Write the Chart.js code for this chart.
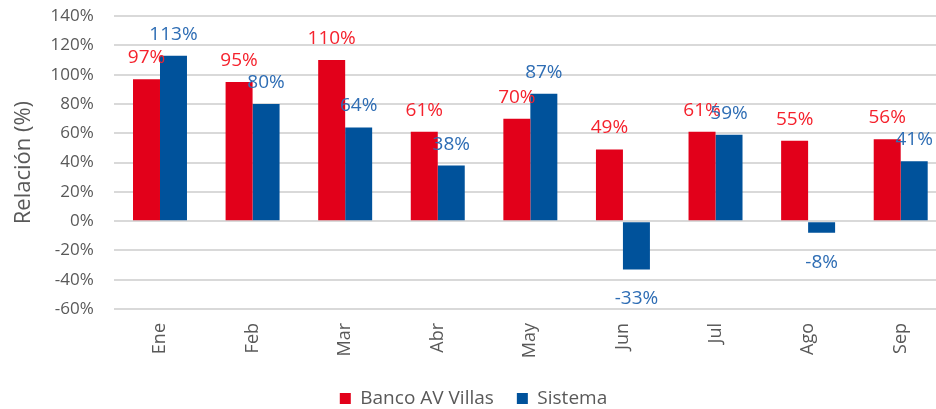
<!DOCTYPE html>
<html>
<head>
<meta charset="utf-8">
<script src="https://cdn.jsdelivr.net/npm/chart.js@4/dist/chart.umd.min.js"></script>
<style>
  html, body { margin: 0; padding: 0; background: #fff; overflow: hidden; }
  #wrap { width: 948px; height: 432px; margin-top: -14px; }
</style>
</head>
<body>
<div id="wrap"><canvas id="myChart"></canvas></div>
<script>
var meses = ['Ene', 'Feb', 'Mar', 'Abr', 'May', 'Jun', 'Jul', 'Ago', 'Sep'];
var avVillas = [97, 95, 110, 61, 70, 49, 61, 55, 56];
var sistema = [113, 80, 64, 38, 87, -33, 59, -8, 41];

var gris = '#595959';
var fuente = "'Open Sans', 'Liberation Sans', sans-serif";

// etiquetas de datos encima / debajo de cada barra
var etiquetas = {
  id: 'etiquetas',
  afterDatasetsDraw: function(chart) {
    var ctx = chart.ctx;
    ctx.save();
    ctx.font = '19px ' + fuente;
    ctx.textAlign = 'center';
    ctx.textBaseline = 'alphabetic';
    chart.data.datasets.forEach(function(ds, i) {
      var meta = chart.getDatasetMeta(i);
      ctx.fillStyle = ds.labelColor;
      meta.data.forEach(function(bar, j) {
        var v = ds.data[j];
        var y = v >= 0 ? bar.y - 16 : bar.y + 35;
        ctx.fillText(v + '%', bar.x, y);
      });
    });
    ctx.restore();
  }
};

var ctx = document.getElementById('myChart').getContext('2d');
var myChart = new Chart(ctx, {
  type: 'bar',
  data: {
    labels: meses,
    datasets: [{
      label: 'Banco AV Villas',
      data: avVillas,
      backgroundColor: '#E2001A',
      labelColor: '#F5222D',
      categoryPercentage: 0.583,
      barPercentage: 1
    }, {
      label: 'Sistema',
      data: sistema,
      backgroundColor: '#00529B',
      labelColor: '#2E6DB4',
      categoryPercentage: 0.583,
      barPercentage: 1
    }]
  },
  options: {
    responsive: true,
    maintainAspectRatio: false,
    animation: false,
    layout: { padding: { top: 5, right: 1, left: 0, bottom: 0 } },
    plugins: {
      tooltip: { enabled: false },
      legend: {
        position: 'bottom',
        labels: {
          color: gris,
          font: { family: fuente, size: 19 },
          boxWidth: 11,
          boxHeight: 11,
          padding: 23
        }
      }
    },
    scales: {
      x: {
        grid: { display: false, drawTicks: false },
        border: { display: false },
        ticks: {
          color: gris,
          font: { family: fuente, size: 18 },
          maxRotation: 90,
          minRotation: 90,
          padding: 14
        },
        afterFit: function(scale) { scale.height = 57; }
      },
      y: {
        min: -60,
        max: 140,
        grid: { color: '#D9D9D9', lineWidth: 2, drawTicks: false },
        border: { display: false },
        ticks: {
          stepSize: 20,
          color: gris,
          font: { family: fuente, size: 17 },
          padding: 20,
          callback: function(v) { return v + '%'; }
        },
        title: {
          display: true,
          text: 'Relación (%)',
          color: gris,
          font: { family: fuente, size: 22 },
          padding: { top: 11, bottom: 0 }
        },
        afterFit: function(scale) { scale.width = 113.7; }
      }
    }
  },
  plugins: [etiquetas]
});
</script>
</body>
</html>
